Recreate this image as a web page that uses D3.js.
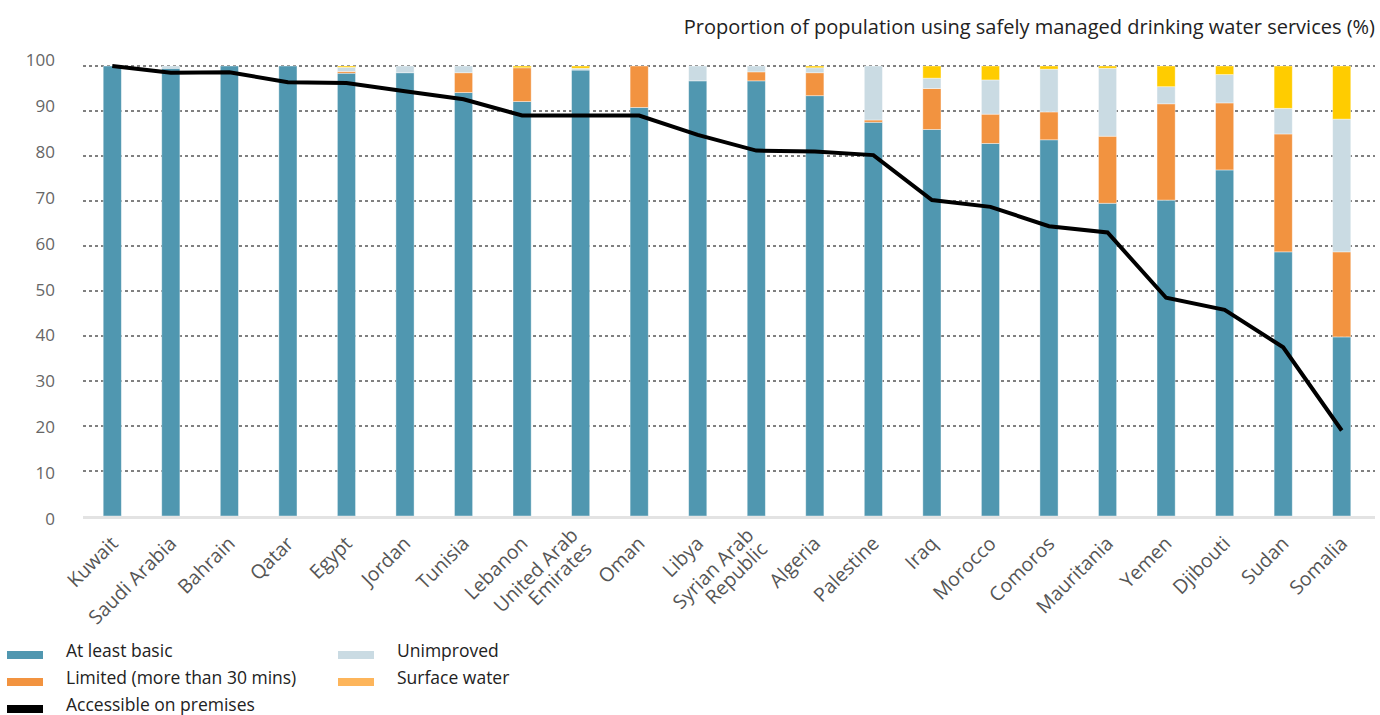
<!DOCTYPE html>
<html>
<head>
<meta charset="utf-8">
<script src="https://cdn.jsdelivr.net/npm/d3@7"></script>
<style>
  body { margin: 0; background: #fff; font-family: "Open Sans", sans-serif; }
  .grid line { stroke: #000; stroke-dasharray: 3,3; stroke-width: 1; }
  .tick-label { fill: #666; font-size: 17px; }
  .x-label { fill: #555; font-size: 19.5px; }
  .legend text { fill: #222; font-size: 17.5px; }
</style>
</head>
<body>
<div id="vis"></div>
<script>
const countries = ['Kuwait', 'Saudi Arabia', 'Bahrain', 'Qatar', 'Egypt', 'Jordan', 'Tunisia', 'Lebanon',
    'United Arab Emirates', 'Oman', 'Libya', 'Syrian Arab Republic', 'Algeria', 'Palestine', 'Iraq',
    'Morocco', 'Comoros', 'Mauritania', 'Yemen', 'Djibouti', 'Sudan', 'Somalia'];

// label lines for the two long names
const labelLines = {
    'United Arab Emirates': ['United Arab', 'Emirates'],
    'Syrian Arab Republic': ['Syrian Arab', 'Republic']
};

const atLeastBasic = [100, 99.5, 100, 100, 98.4, 98.5, 94.1, 92.1, 99.1, 90.8, 96.7, 96.7, 93.4, 87.5, 85.9, 82.8, 83.6, 69.5, 70.2, 76.9, 58.7, 39.8];
const limited      = [0, 0, 0, 0, 0.4, 0, 4.4, 7.5, 0, 9.2, 0, 2.0, 5.1, 0.5, 9.1, 6.5, 6.2, 14.9, 21.4, 14.9, 26.2, 18.9];
const unimproved   = [0, 0.5, 0, 0, 0.9, 1.5, 1.5, 0, 0.4, 0, 3.3, 1.3, 1.1, 12.0, 2.3, 7.6, 9.5, 15.1, 3.8, 6.3, 5.7, 29.5];
const surfaceWater = [0, 0, 0, 0, 0.3, 0, 0, 0.4, 0.5, 0, 0, 0, 0.4, 0, 2.7, 3.1, 0.7, 0.5, 4.6, 1.9, 9.4, 11.8];
const onPremises   = [100, 98.5, 98.6, 96.4, 96.2, 94.4, 92.6, 89.0, 89.0, 89.0, 84.7, 81.2, 81.0, 80.2, 70.2, 68.7, 64.4, 63.0, 48.5, 45.8, 37.5, 19.0];

const yTicks = [0, 10, 20, 30, 40, 50, 60, 70, 80, 90, 100];

const keys = ['basic', 'limited', 'unimproved', 'surface'];
const barColors = { basic: '#5097b0', limited: '#f29340', unimproved: '#cadbe3', surface: '#ffcc00' };

const W = 1380, H = 715;

const svg = d3.select('#vis')
    .append('svg')
    .attr('width', W)
    .attr('height', H);

const rows = countries.map((c, i) => ({
    country: c,
    basic: atLeastBasic[i],
    limited: limited[i],
    unimproved: unimproved[i],
    surface: surfaceWater[i],
    premises: onPremises[i]
}));

const xScale = d3.scaleBand()
    .domain(countries)
    .range([83, 1371])
    .paddingInner(0.69)
    .paddingOuter(0.345);

const yScale = d3.scaleLinear()
    .domain([0, 100])
    .range([516, 66]);

// the tick labels sit on a slightly taller scale than the gridlines
const labelScale = d3.scaleLinear()
    .domain([0, 100])
    .range([519, 60]);

// title
svg.append('text')
    .attr('x', 1375)
    .attr('y', 34)
    .attr('text-anchor', 'end')
    .style('font-size', '20px')
    .style('fill', '#222')
    .text('Proportion of population using safely managed drinking water services (%)');

// gridlines
svg.append('g')
    .attr('class', 'grid')
    .selectAll('line')
    .data(yTicks.filter(d => d > 0))
    .join('line')
    .attr('x1', 83)
    .attr('x2', 1375)
    .attr('y1', d => yScale(d))
    .attr('y2', d => yScale(d));

// y tick labels
svg.append('g')
    .selectAll('text')
    .data(yTicks)
    .join('text')
    .attr('class', 'tick-label')
    .attr('x', 55)
    .attr('y', d => labelScale(d) + 6)
    .attr('text-anchor', 'end')
    .text(d => d);

// stacked bars
const stacked = d3.stack().keys(keys)(rows);

svg.append('g')
    .selectAll('g')
    .data(stacked)
    .join('g')
    .attr('fill', d => barColors[d.key])
    .selectAll('rect')
    .data(d => d.filter(p => p[1] - p[0] > 0))
    .join('rect')
    .attr('x', d => xScale(d.data.country))
    .attr('width', xScale.bandwidth())
    .attr('y', d => yScale(d[1]))
    .attr('height', d => yScale(d[0]) - yScale(d[1]))
    .attr('stroke', 'rgba(255,255,255,0.5)')
    .attr('stroke-width', 0.8);

// baseline
svg.append('line')
    .attr('x1', 83)
    .attr('x2', 1375)
    .attr('y1', 517.5)
    .attr('y2', 517.5)
    .attr('stroke', '#e3e3e3')
    .attr('stroke-width', 3);

// accessible on premises line
const line = d3.line()
    .x(d => xScale(d.country) + xScale.bandwidth() / 2)
    .y(d => yScale(d.premises));

svg.append('path')
    .datum(rows)
    .attr('fill', 'none')
    .attr('stroke', '#000')
    .attr('stroke-width', 4)
    .attr('stroke-linejoin', 'miter')
    .attr('d', line);

// x labels
const xLabels = svg.append('g')
    .selectAll('text')
    .data(countries)
    .join('text')
    .attr('class', 'x-label')
    .attr('text-anchor', 'end')
    .attr('transform', d => `translate(${xScale(d) + xScale.bandwidth() / 2 + 2},${540}) rotate(-45)`);

xLabels.each(function(d) {
    const lines = labelLines[d] || [d];
    const sel = d3.select(this);
    lines.forEach((l, i) => {
        sel.append('tspan')
            .attr('x', 0)
            .attr('dy', i === 0 ? (lines.length > 1 ? '-0.25em' : '0.35em') : '1.0em')
            .text(l);
    });
});

// legend
const legendItems = [
    { label: 'At least basic', color: '#5097b0', x: 7, y: 655 },
    { label: 'Limited (more than 30 mins)', color: '#f29340', x: 7, y: 682 },
    { label: 'Accessible on premises', color: '#000', x: 7, y: 709 },
    { label: 'Unimproved', color: '#cadbe3', x: 338, y: 655 },
    { label: 'Surface water', color: '#fdb55b', x: 338, y: 682 }
];

const legend = svg.append('g').attr('class', 'legend');

legend.selectAll('rect')
    .data(legendItems)
    .join('rect')
    .attr('x', d => d.x)
    .attr('y', d => d.y - 4)
    .attr('width', 36)
    .attr('height', 8)
    .attr('fill', d => d.color);

legend.selectAll('text')
    .data(legendItems)
    .join('text')
    .attr('x', d => d.x + 59)
    .attr('y', d => d.y + 2)
    .text(d => d.label);
</script>
</body>
</html>
